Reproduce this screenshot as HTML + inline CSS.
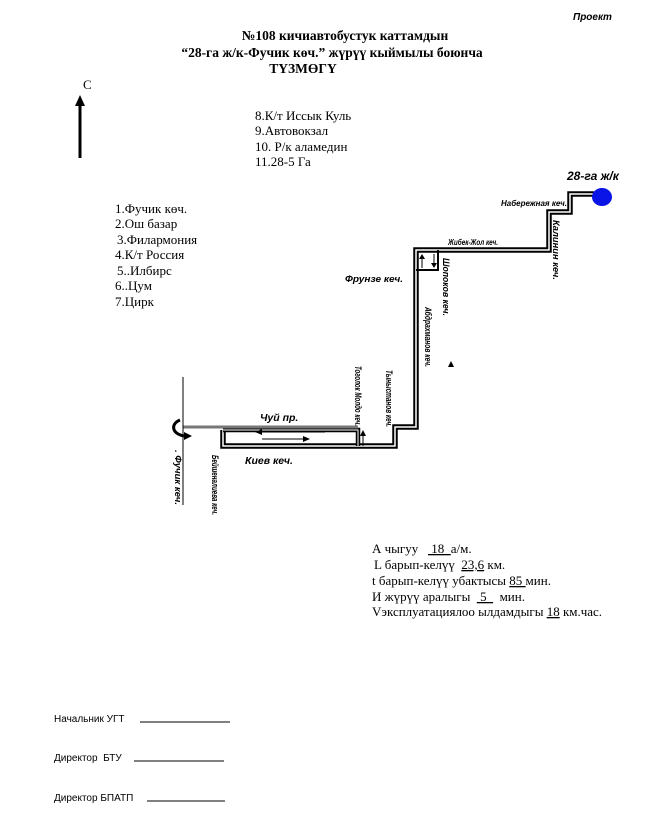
<!DOCTYPE html>
<html><head><meta charset="utf-8"><style>
html,body{margin:0;padding:0;background:#fff;}
body{width:665px;height:832px;overflow:hidden;}
svg{display:block}
.s{font-family:"Liberation Serif","DejaVu Serif",serif;font-size:13px;fill:#000}
.b{font-family:"Liberation Serif",serif;font-size:13.5px;font-weight:bold;fill:#000}
.l{font-family:"Liberation Sans",sans-serif;font-weight:bold;font-style:italic;fill:#000}
.n{font-family:"Liberation Sans",sans-serif;font-size:10px;fill:#000}
</style></head><body>
<svg width="665" height="832" viewBox="0 0 665 832" xmlns="http://www.w3.org/2000/svg">
<text x="573" y="20" class="l" font-size="10">Проект</text>
<text x="345" y="40" class="b" text-anchor="middle">№108 кичиавтобустук каттамдын</text>
<text x="332" y="57" class="b" text-anchor="middle">“28-га ж/к-Фучик көч.” жүрүү кыймылы боюнча</text>
<text x="303" y="73" class="b" text-anchor="middle">ТҮЗМӨГҮ</text>
<text x="83" y="89" class="s">С</text>
<line x1="80" y1="158" x2="80" y2="104" stroke="#000" stroke-width="3"/>
<polygon points="80,95 75,106 85,106" fill="#000"/>
<g class="s">
<text x="255" y="120">8.К/т Иссык Куль</text>
<text x="255" y="135">9.Автовокзал</text>
<text x="255" y="151">10. Р/к аламедин</text>
<text x="255" y="166">11.28-5 Га</text>
<text x="115" y="213">1.Фучик көч.</text>
<text x="115" y="228">2.Ош базар</text>
<text x="117" y="244">3.Филармония</text>
<text x="115" y="259">4.К/т Россия</text>
<text x="117" y="275">5..Илбирс</text>
<text x="115" y="290">6..Цум</text>
<text x="115" y="306">7.Цирк</text>
</g>
<g fill="none" stroke-linejoin="miter">
<path d="M594,194 L570,194 L570,212 L549,212 L549,250 L416,250 L416,427 L395,427 L395,446 L223,446 L223,430" stroke="#000" stroke-width="5.5"/>
<path d="M594,194 L570,194 L570,212 L549,212 L549,250 L416,250 L416,427 L395,427 L395,446 L223,446 L223,430" stroke="#fff" stroke-width="1.5"/>
<path d="M223,430 L358,430 L358,446" stroke="#000" stroke-width="4.5"/>
<path d="M223,430 L358,430 L358,446" stroke="#fff" stroke-width="1"/>
<path d="M416,270 L438,270 L438,250" stroke="#000" stroke-width="2"/>
</g>
<line x1="183" y1="427" x2="358" y2="427" stroke="#777" stroke-width="3"/>
<line x1="183" y1="377" x2="183" y2="505" stroke="#000" stroke-width="1"/>
<path d="M180,420 C170,424 172,434 184,436" fill="none" stroke="#000" stroke-width="3"/>
<polygon points="184,432 192,436 184,440" fill="#000"/>
<ellipse cx="602" cy="197" rx="10" ry="9" fill="#0a14e6"/>
<line x1="257" y1="432" x2="325" y2="432" stroke="#000"/><polygon points="255,432 262,429 262,435" fill="#000"/>
<line x1="262" y1="439" x2="305" y2="439" stroke="#000"/><polygon points="310,439 303,436 303,442" fill="#000"/>
<line x1="363" y1="432" x2="363" y2="446" stroke="#000"/><polygon points="363,430 360,436 366,436" fill="#000"/>
<line x1="422" y1="256" x2="422" y2="268" stroke="#000"/><polygon points="422,254 419,259 425,259" fill="#000"/>
<line x1="434" y1="254" x2="434" y2="266" stroke="#000"/><polygon points="434,268 431,263 437,263" fill="#000"/>
<polygon points="448,367 451,361 454,367" fill="#000"/>
<text x="567" y="180" class="l" font-size="12">28-га ж/к</text>
<text x="501" y="206" class="l" font-size="8.5" textLength="66" lengthAdjust="spacingAndGlyphs">Набережная кеч.</text>
<text x="448" y="245" class="l" font-size="8" textLength="50" lengthAdjust="spacingAndGlyphs">Жибек-Жол кеч.</text>
<text x="345" y="282" class="l" font-size="9" textLength="58" lengthAdjust="spacingAndGlyphs">Фрунзе кеч.</text>
<text x="260" y="421" class="l" font-size="10.5">Чуй пр.</text>
<text x="245" y="464" class="l" font-size="10.5">Киев кеч.</text>
<g class="l" font-size="9">
<text transform="translate(553,220) rotate(90)" textLength="60" lengthAdjust="spacingAndGlyphs">Калинин кеч.</text>
<text transform="translate(443,258) rotate(90)" textLength="58" lengthAdjust="spacingAndGlyphs">Шопоков кеч.</text>
<text transform="translate(425,307) rotate(90)" textLength="60" lengthAdjust="spacingAndGlyphs">Абдрахманов кеч.</text>
<text transform="translate(386,370) rotate(90)" textLength="57" lengthAdjust="spacingAndGlyphs">Тыныстанов кеч.</text>
<text transform="translate(355,366) rotate(90)" textLength="60" lengthAdjust="spacingAndGlyphs">Тоголок Молдо кеч.</text>
<text transform="translate(212,455) rotate(90)" textLength="60" lengthAdjust="spacingAndGlyphs">Бейшеналиева кеч.</text>
<text transform="translate(175,450) rotate(90)" textLength="55" lengthAdjust="spacingAndGlyphs">. Фучик кеч.</text>
</g>
<g class="s">
<text x="372" y="553">А чыгуу &#160; <tspan text-decoration="underline">&#160;18&#160;&#160;</tspan>а/м.</text>
<text x="374" y="569">L барып-келүү &#160;<tspan text-decoration="underline">23,6</tspan> км.</text>
<text x="372" y="585">t барып-келүү убактысы <tspan text-decoration="underline">85&#160;</tspan>мин.</text>
<text x="372" y="601">И жүрүү аралыгы &#160;<tspan text-decoration="underline">&#160;5&#160;&#160;</tspan>&#160; мин.</text>
<text x="372" y="616">Vэксплуатациялоо ылдамдыгы <tspan text-decoration="underline">18</tspan> км.час.</text>
</g>
<g class="n">
<text x="54" y="722">Начальник УГТ</text>
<text x="54" y="761">Директор &#160;БТУ</text>
<text x="54" y="801">Директор БПАТП</text>
</g>
<g stroke="#000" stroke-width="1">
<line x1="140" y1="722" x2="230" y2="722"/>
<line x1="134" y1="761" x2="224" y2="761"/>
<line x1="147" y1="801" x2="225" y2="801"/>
</g>
</svg>
</body></html>
